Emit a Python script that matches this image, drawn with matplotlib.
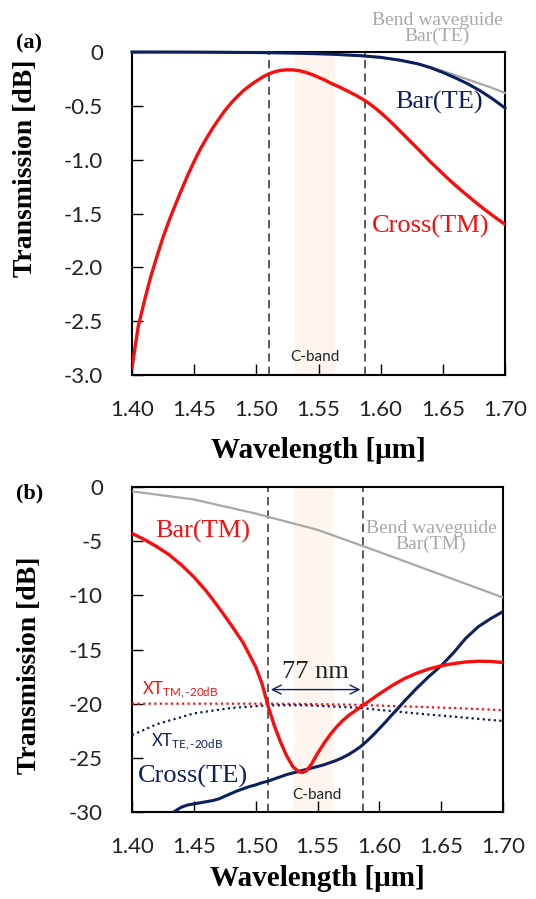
import numpy as np
import matplotlib
matplotlib.use("Agg")
import matplotlib.pyplot as plt

plt.rcParams['mathtext.fontset'] = 'custom'
plt.rcParams['mathtext.rm'] = 'Lato'
plt.rcParams['mathtext.it'] = 'Lato'

# ---------------- Panel (a) data ----------------
wl_a_cross_tm = [1.400, 1.405, 1.410, 1.415, 1.420, 1.425, 1.430, 1.435, 1.440, 1.445, 1.450,
                 1.455, 1.460, 1.465, 1.470, 1.475, 1.480, 1.485, 1.490, 1.495, 1.500, 1.505,
                 1.510, 1.515, 1.520, 1.525, 1.530, 1.535, 1.540, 1.545, 1.550, 1.555, 1.560,
                 1.565, 1.570, 1.575, 1.580, 1.585, 1.590, 1.595, 1.600, 1.605, 1.610, 1.615,
                 1.620, 1.625, 1.630, 1.635, 1.640, 1.645, 1.650, 1.655, 1.660, 1.665, 1.670,
                 1.675, 1.680, 1.685, 1.690, 1.695, 1.700]
cross_tm_a = [-2.93, -2.55, -2.31, -2.09, -1.90, -1.72, -1.56, -1.415, -1.275, -1.14, -1.015,
              -0.90, -0.80, -0.705, -0.62, -0.54, -0.47, -0.41, -0.355, -0.31, -0.27, -0.233,
              -0.203, -0.182, -0.17, -0.165, -0.167, -0.175, -0.19, -0.21, -0.235, -0.26, -0.29,
              -0.315, -0.343, -0.372, -0.402, -0.435, -0.472, -0.515, -0.563, -0.615, -0.67, -0.727,
              -0.785, -0.843, -0.90, -0.96, -1.02, -1.075, -1.13, -1.185, -1.237, -1.287, -1.335,
              -1.383, -1.43, -1.475, -1.518, -1.56, -1.60]

wl_a_bar = [1.40, 1.45, 1.50, 1.53, 1.56, 1.585, 1.60, 1.615, 1.63, 1.64, 1.65, 1.66, 1.67,
            1.68, 1.69, 1.70]
bar_te_a = [0.0, -0.001, -0.005, -0.01, -0.02, -0.035, -0.05, -0.075, -0.11, -0.145, -0.19,
            -0.24, -0.295, -0.36, -0.435, -0.52]
bend_te_a = [-0.003, -0.004, -0.007, -0.012, -0.022, -0.037, -0.052, -0.076, -0.11, -0.14,
             -0.175, -0.215, -0.255, -0.295, -0.335, -0.38]

# ---------------- Panel (b) data ----------------
wl_b_bend = [1.40, 1.45, 1.50, 1.55, 1.60, 1.65, 1.70]
bend_tm_b = [-0.4, -1.15, -2.45, -3.95, -6.0, -8.1, -10.2]

wl_b_bar = [1.400, 1.410, 1.420, 1.430, 1.440, 1.450, 1.460, 1.470, 1.480, 1.490, 1.500,
            1.505, 1.510, 1.515, 1.520, 1.525, 1.530, 1.535, 1.538, 1.541, 1.545, 1.550,
            1.555, 1.560, 1.565, 1.570, 1.575, 1.580, 1.585, 1.590, 1.600, 1.610, 1.620,
            1.630, 1.640, 1.650, 1.660, 1.670, 1.680, 1.690, 1.700]
bar_tm_b = [-4.28, -4.85, -5.5, -6.25, -7.2, -8.3, -9.6, -11.1, -12.7, -14.4, -16.6,
            -18.1, -20.2, -22.0, -23.5, -24.8, -25.8, -26.3, -26.35, -26.2, -25.6, -24.6,
            -23.7, -22.9, -22.2, -21.6, -21.1, -20.7, -20.3, -19.9, -19.1, -18.35, -17.7,
            -17.2, -16.8, -16.5, -16.3, -16.15, -16.08, -16.1, -16.2]

wl_b_cross = [1.430, 1.435, 1.440, 1.445, 1.450, 1.455, 1.460, 1.465, 1.470, 1.475, 1.480,
              1.485, 1.490, 1.495, 1.500, 1.505, 1.510, 1.515, 1.520, 1.525, 1.530, 1.535,
              1.540, 1.545, 1.550, 1.555, 1.560, 1.565, 1.570, 1.575, 1.580, 1.585, 1.590,
              1.595, 1.600, 1.605, 1.610, 1.615, 1.620, 1.630, 1.640, 1.650, 1.660, 1.670,
              1.680, 1.690, 1.700]
cross_te_b = [-30.3, -29.9, -29.55, -29.35, -29.25, -29.15, -29.05, -28.95, -28.8, -28.55, -28.3,
              -28.05, -27.85, -27.65, -27.5, -27.3, -27.15, -26.95, -26.75, -26.55, -26.4, -26.25,
              -26.1, -25.95, -25.8, -25.65, -25.45, -25.25, -25.0, -24.7, -24.35, -23.95, -23.45,
              -22.9, -22.3, -21.7, -21.05, -20.45, -19.8, -18.6, -17.5, -16.5, -15.3, -13.95,
              -12.9, -12.15, -11.5]

wl_b_xt = [1.40, 1.42, 1.45, 1.48, 1.51, 1.54, 1.58, 1.62, 1.66, 1.70]
xt_tm = [-20.0, -20.0, -20.0, -20.0, -20.0, -20.03, -20.1, -20.25, -20.4, -20.6]
xt_te = [-22.9, -21.9, -20.9, -20.4, -20.15, -20.15, -20.35, -20.8, -21.2, -21.6]

xticks = [1.40, 1.45, 1.50, 1.55, 1.60, 1.65, 1.70]
xticklabels = ['1.40', '1.45', '1.50', '1.55', '1.60', '1.65', '1.70']
yticks_a = [0, -0.5, -1.0, -1.5, -2.0, -2.5, -3.0]
yticklabels_a = ['0', '-0.5', '-1.0', '-1.5', '-2.0', '-2.5', '-3.0']
yticks_b = [0, -5, -10, -15, -20, -25, -30]
yticklabels_b = ['0', '-5', '-10', '-15', '-20', '-25', '-30']

band_edges = [1.510, 1.587]
cband = [1.531, 1.563]

RED = '#fa0d0d'
NAVY = '#0c1f5f'
GRAY = '#a8a8a8'
DASH = '#404040'
SERIF = 'Liberation Serif'
SANS = 'Lato'

fig = plt.figure(figsize=(5.36, 8.99), dpi=100)
ax1 = fig.add_axes([132/536, 1-375/899, (505-132)/536, (375-52)/899])
ax2 = fig.add_axes([132/536, 1-812/899, (503-132)/536, (812-487)/899])


def style(ax, yt, ytl, ylim, xlabelpad):
    ax.set_xlim(1.40, 1.70)
    ax.set_ylim(*ylim)
    ax.set_xticks(xticks)
    ax.set_xticklabels(xticklabels, fontfamily=SANS, fontsize=16, color='#222222')
    ax.set_yticks(yt)
    ax.set_yticklabels(ytl, fontfamily=SANS, fontsize=16, color='#222222')
    ax.tick_params(axis='x', direction='in', length=8, width=1, pad=18)
    ax.tick_params(axis='y', direction='in', length=8, width=1, pad=21)
    for s in ax.spines.values():
        s.set_linewidth(1.5)
        s.set_color('black')
    ax.set_xlabel('Wavelength [μm]', fontfamily=SERIF, fontweight='bold', fontsize=21,
                  labelpad=xlabelpad)
    ax.set_ylabel('Transmission [dB]', fontfamily=SERIF, fontweight='bold', fontsize=20)
    for xv in band_edges:
        ax.axvline(xv, color=DASH, lw=1.2, ls=(0, (5, 3)), zorder=1)
    ax.axvspan(cband[0], cband[1], color='#fef5ee', lw=0, zorder=0)


# Panel (a)
style(ax1, yticks_a, yticklabels_a, (-3.0, 0.0), 12)
ax1.yaxis.set_label_coords(-0.253, 0.64)
ax1.plot(wl_a_bar, bend_te_a, color=GRAY, lw=1.6, zorder=3, clip_on=False)
ax1.plot(wl_a_bar, bar_te_a, color=NAVY, lw=2.2, zorder=4, clip_on=False)
ax1.plot(wl_a_cross_tm, cross_tm_a, color=RED, lw=2.4, zorder=5)
ax1.text(1.547, -2.83, 'C-band', fontfamily=SANS, fontsize=11, ha='center', va='center', color='#222222')
ax1.text(1.647, -0.47, 'Bar(TE)', fontfamily=SERIF, fontsize=19, color=NAVY, ha='center', va='center')
ax1.text(1.640, -1.62, 'Cross(TM)', fontfamily=SERIF, fontsize=19, color=RED, ha='center', va='center')
ax1.text(1.6453, 0.22, 'Bend waveguide\nBar(TE)', fontfamily=SERIF, fontsize=14, color=GRAY,
         ha='center', va='center', linespacing=0.9, clip_on=False)
fig.text(29/536, 1-43/899, '(a)', fontfamily=SERIF, fontweight='bold', fontsize=16, ha='center', va='center')

# Panel (b)
style(ax2, yticks_b, yticklabels_b, (-30, 0), 6)
ax2.yaxis.set_label_coords(-0.243, 0.45)
ax2.plot(wl_b_bend, bend_tm_b, color=GRAY, lw=1.6, zorder=3)
ax2.plot(wl_b_xt, xt_tm, color=RED, lw=1.6, ls=(0, (1, 1.5)), zorder=3)
ax2.plot(wl_b_xt, xt_te, color=NAVY, lw=1.6, ls=(0, (1, 1.5)), zorder=3)
ax2.plot(wl_b_cross, cross_te_b, color=NAVY, lw=2.2, zorder=4)
ax2.plot(wl_b_bar, bar_tm_b, color=RED, lw=2.4, zorder=5)
ax2.text(1.5496, -28.4, 'C-band', fontfamily=SANS, fontsize=11, ha='center', va='center', color='#222222')
ax2.text(1.457, -4.1, 'Bar(TM)', fontfamily=SERIF, fontsize=19, color=RED, ha='center', va='center')
ax2.text(1.449, -26.7, 'Cross(TE)', fontfamily=SERIF, fontsize=19, color=NAVY, ha='center', va='center')
ax2.text(1.6418, -4.6, 'Bend waveguide\nBar(TM)', fontfamily=SERIF, fontsize=14, color=GRAY,
         ha='center', va='center', linespacing=0.9)
ax2.annotate('', xy=(band_edges[0], -18.7), xytext=(band_edges[1], -18.7),
             arrowprops=dict(arrowstyle='<->', color=NAVY, lw=1.0, mutation_scale=16))
ax2.text(1.548, -17.1, '77 nm', fontfamily=SERIF, fontsize=19, ha='center', va='center', color='#222222')
ax2.text(1.408, -18.7, r'$\mathrm{XT}_{\mathrm{TM,\text{-}20dB}}$', fontsize=12, color=RED, ha='left', va='center')
ax2.text(1.4155, -23.5, r'$\mathrm{XT}_{\mathrm{TE,\text{-}20dB}}$', fontsize=12, color=NAVY, ha='left', va='center')
fig.text(30/536, 1-493/899, '(b)', fontfamily=SERIF, fontweight='bold', fontsize=16, ha='center', va='center')

fig.savefig('out.png', dpi=100)
